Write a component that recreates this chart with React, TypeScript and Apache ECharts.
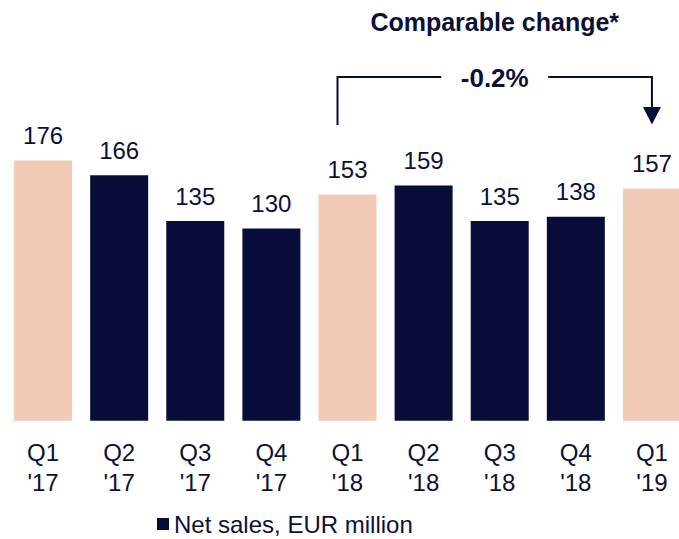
import React, { useEffect, useRef } from "react";
import * as echarts from "echarts";

const categories = ["Q1\n'17", "Q2\n'17", "Q3\n'17", "Q4\n'17", "Q1\n'18", "Q2\n'18", "Q3\n'18", "Q4\n'18", "Q1\n'19"];
const netSales = [176, 166, 135, 130, 153, 159, 135, 138, 157];
const highlighted = [true, false, false, false, true, false, false, false, true];
const seriesName = "Net sales, EUR million";
const changeTitle = "Comparable change*";
const changeValue = "-0.2%";
const changeFromIndex = 4;
const changeToIndex = 8;

const NAVY = "#070d38";
const TEXT = "#0b1036";
const PEACH = "#f2cbb6";
const FONT = "'Liberation Sans', Arial, sans-serif";

export default function App() {
  const ref = useRef<HTMLDivElement>(null);

  useEffect(() => {
    if (!ref.current) return;
    const chart = echarts.init(ref.current, undefined, { renderer: "svg" });
    chart.setOption({
      animation: false,
      textStyle: { fontFamily: FONT },
      grid: { left: 5, width: 685, top: 125, height: 295.7, outerBoundsMode: "none", containLabel: false },
      legend: {
        data: [seriesName],
        left: 157,
        top: 512,
        padding: 0,
        icon: "rect",
        itemWidth: 12,
        itemHeight: 12,
        selectedMode: false,
        textStyle: { fontSize: 24, color: TEXT, fontFamily: FONT },
      },
      xAxis: {
        type: "category",
        data: categories,
        axisLine: { show: false },
        axisTick: { show: false },
        axisLabel: {
          interval: 0,
          fontSize: 24,
          lineHeight: 30,
          margin: 17,
          color: TEXT,
          fontFamily: FONT,
        },
      },
      yAxis: { type: "value", min: 0, max: 200, show: false, splitLine: { show: false } },
      series: [
        {
          name: seriesName,
          type: "bar",
          barWidth: 58,
          itemStyle: { color: NAVY },
          label: {
            show: true,
            position: "top",
            distance: 13,
            fontSize: 24,
            color: TEXT,
            fontFamily: FONT,
          },
          data: netSales.map((v, i) => ({
            value: v,
            itemStyle: { color: highlighted[i] ? PEACH : NAVY },
          })),
        },
      ],
    });

    const xFrom = (chart.convertToPixel({ xAxisIndex: 0 }, changeFromIndex) as number) - 10;
    const xTo = chart.convertToPixel({ xAxisIndex: 0 }, changeToIndex) as number;
    const mid = (xFrom + xTo) / 2;
    const yTop = 77;
    const yBottomLeft = 125;
    const arrowTop = 107;
    const arrowTip = 124.5;
    const gapHalf = 53.5;
    const lineStyle = { stroke: NAVY, lineWidth: 2 };

    chart.setOption({
      graphic: [
        {
          type: "text",
          x: mid,
          y: 22,
          style: {
            text: changeTitle,
            font: `bold 25px ${FONT}`,
            fill: TEXT,
            align: "center",
            verticalAlign: "middle",
          },
        },
        {
          type: "text",
          x: mid,
          y: 78,
          style: {
            text: changeValue,
            font: `bold 26px ${FONT}`,
            fill: TEXT,
            align: "center",
            verticalAlign: "middle",
          },
        },
        {
          type: "polyline",
          shape: { points: [[xFrom, yBottomLeft], [xFrom, yTop], [mid - gapHalf, yTop]] },
          style: { ...lineStyle, fill: "none" },
        },
        {
          type: "polyline",
          shape: { points: [[mid + gapHalf, yTop], [xTo, yTop], [xTo, arrowTop]] },
          style: { ...lineStyle, fill: "none" },
        },
        {
          type: "polygon",
          shape: { points: [[xTo - 9, arrowTop], [xTo + 9, arrowTop], [xTo, arrowTip]] },
          style: { fill: NAVY },
        },
      ],
    });

    return () => chart.dispose();
  }, []);

  return (
    <div
      ref={ref}
      style={{ position: "absolute", left: 0, top: 0, width: 679, height: 539, background: "#ffffff" }}
    />
  );
}
